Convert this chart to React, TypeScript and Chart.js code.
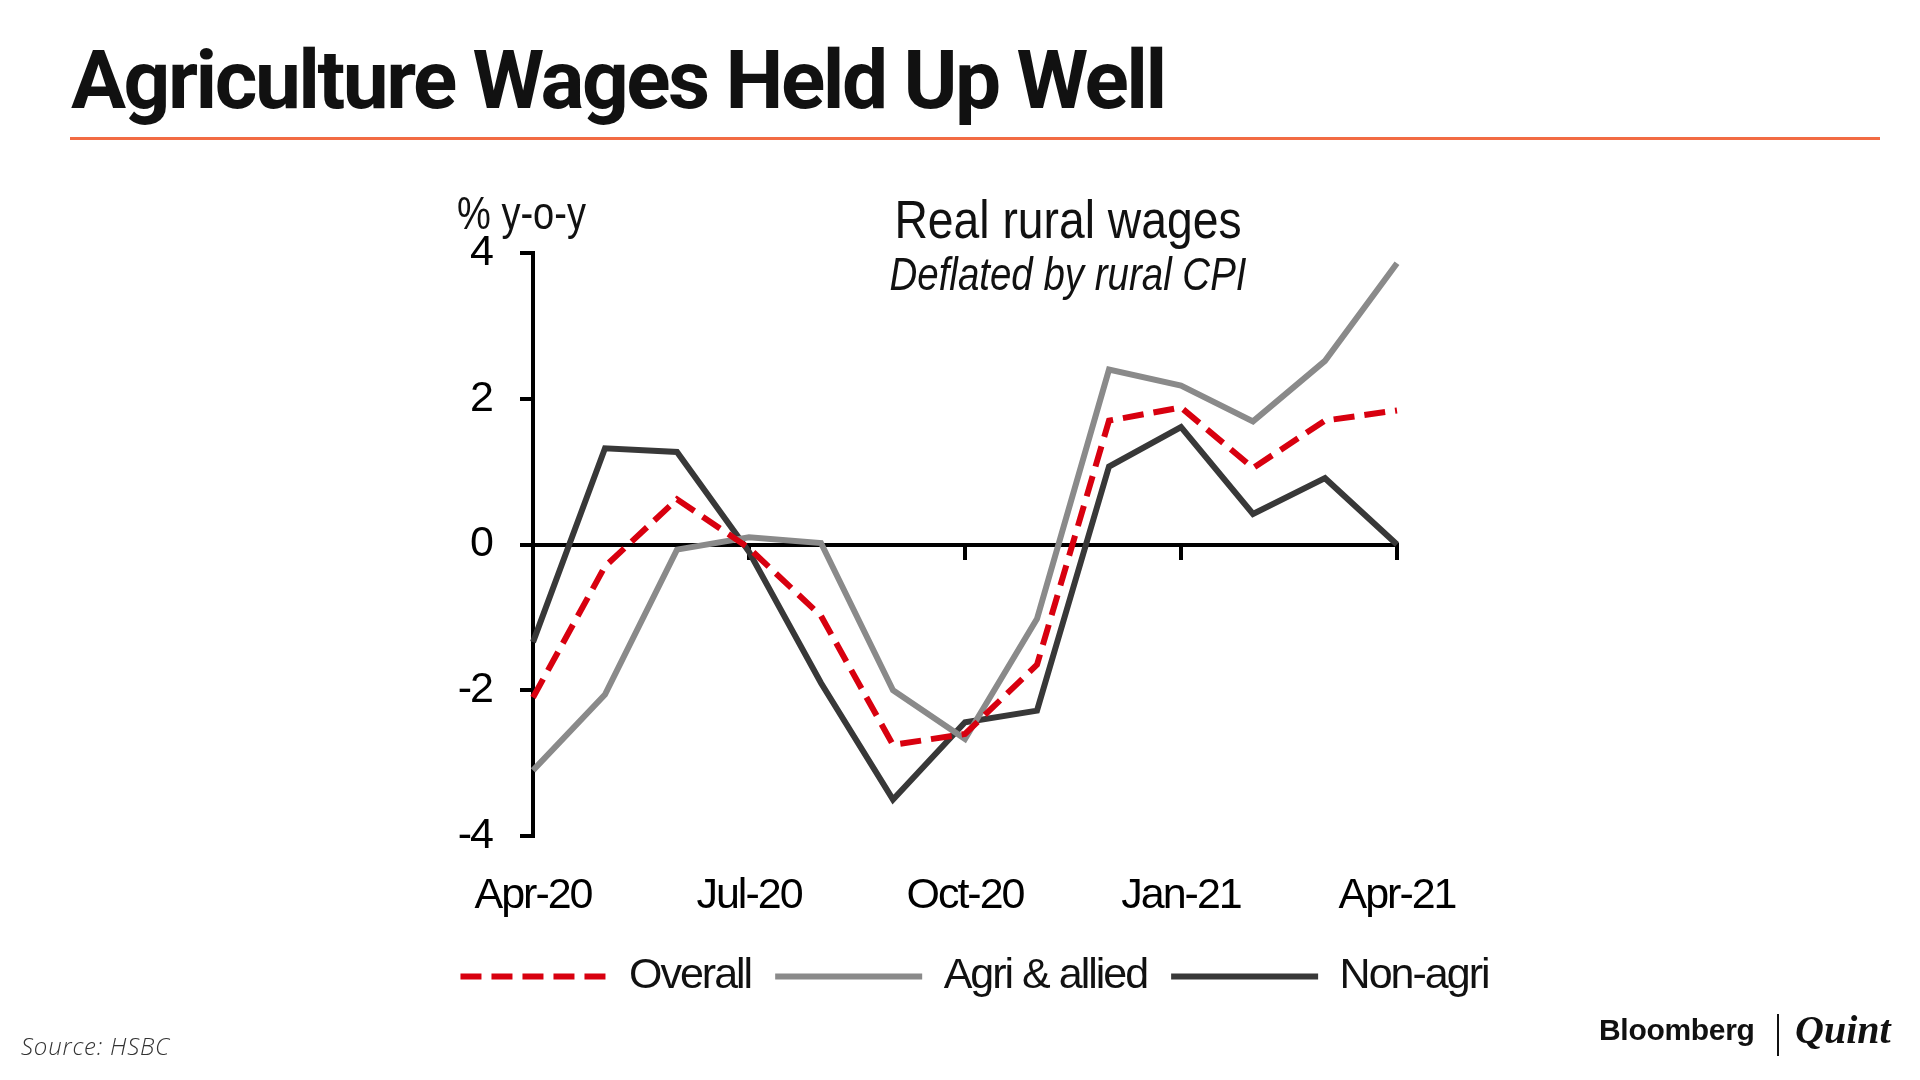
import React, { useEffect, useRef } from 'react';
import { Chart, registerables } from 'chart.js';

Chart.register(...registerables);

const months = ['Apr-20', 'May-20', 'Jun-20', 'Jul-20', 'Aug-20', 'Sep-20', 'Oct-20', 'Nov-20', 'Dec-20', 'Jan-21', 'Feb-21', 'Mar-21', 'Apr-21'];
const shownTickLabels = ['Apr-20', 'Jul-20', 'Oct-20', 'Jan-21', 'Apr-21'];
const yTicks = [-4, -2, 0, 2, 4];
const seriesNames = ['Overall', 'Agri & allied', 'Non-agri'];
const overall = [-2.1, -0.3, 0.62, -0.05, -0.98, -2.75, -2.6, -1.65, 1.7, 1.88, 1.05, 1.7, 1.84];
const agri = [-3.1, -2.06, -0.07, 0.1, 0.02, -2.0, -2.67, -1.02, 2.4, 2.18, 1.69, 2.52, 3.86];
const nonAgri = [-1.34, 1.32, 1.27, -0.1, -1.9, -3.5, -2.44, -2.28, 1.07, 1.61, 0.42, 0.91, 0.0];

const SANS = "'Liberation Sans Narrow', 'Arial Narrow', 'Liberation Sans', Arial, sans-serif";

const narrowTextPlugin = {
  id: 'narrowText',
  beforeUpdate(chart: any) { chart.ctx.letterSpacing = '-2px'; },
  beforeLayout(chart: any) { chart.ctx.letterSpacing = '-2px'; },
  beforeDraw(chart: any) { chart.ctx.letterSpacing = '-2px'; },
};

export default function App() {
  const ref = useRef<HTMLCanvasElement | null>(null);

  useEffect(() => {
    if (!ref.current) return;
    const font = { family: SANS, size: 43 };
    const chart = new Chart(ref.current, {
      type: 'line',
      plugins: [narrowTextPlugin],
      data: {
        labels: months,
        datasets: [
          { label: seriesNames[0], data: overall, borderColor: '#d8000f', backgroundColor: '#d8000f', borderWidth: 6, borderDash: [21, 10], pointRadius: 0, tension: 0, fill: false },
          { label: seriesNames[1], data: agri, borderColor: '#8a8a8a', backgroundColor: '#8a8a8a', borderWidth: 6, pointRadius: 0, tension: 0, fill: false },
          { label: seriesNames[2], data: nonAgri, borderColor: '#383838', backgroundColor: '#383838', borderWidth: 6, pointRadius: 0, tension: 0, fill: false },
        ],
      },
      options: {
        animation: false,
        responsive: false,
        devicePixelRatio: 1,
        layout: { padding: { left: 383, right: 354, top: 253, bottom: 72 } },
        plugins: {
          legend: {
            position: 'bottom',
            align: 'center',
            labels: {
              usePointStyle: true,
              pointStyle: 'line',
              pointStyleWidth: 147,
              padding: 24,
              color: '#111',
              font,
              generateLabels: (c: any) => {
                const items = Chart.defaults.plugins.legend.labels.generateLabels(c);
                return items.map((it: any) => {
                  const ds: any = c.data.datasets[it.datasetIndex];
                  return { ...it, lineDash: ds.borderDash || [], lineWidth: 6, strokeStyle: ds.borderColor, pointStyle: 'line' };
                });
              },
            },
          },
          tooltip: { enabled: false },
        },
        scales: {
          x: {
            type: 'category',
            position: 'bottom',
            offset: false,
            grid: { display: false },
            border: { display: false },
            ticks: {
              autoSkip: false,
              maxRotation: 0,
              padding: 26,
              color: '#000',
              font,
              callback: (_v: any, i: number) => (shownTickLabels.includes(months[i]) ? months[i] : ''),
            },
            afterFit: (s: any) => { s.height = 95; },
          },
          x2: {
            type: 'category',
            position: { y: 0 },
            offset: false,
            ticks: { display: false },
            grid: {
              display: true,
              drawOnChartArea: false,
              drawTicks: true,
              tickLength: 13,
              lineWidth: 4,
              color: (ctx: any) => (shownTickLabels.includes(months[ctx.index]) ? '#000' : 'rgba(0,0,0,0)'),
            },
            border: { display: true, color: '#000', width: 4 },
          },
          y: {
            position: 'left',
            min: -4,
            max: 4,
            afterBuildTicks: (s: any) => { s.ticks = yTicks.map((v) => ({ value: v })); },
            ticks: { padding: 28, color: '#000', font },
            grid: { drawOnChartArea: false, drawTicks: true, tickLength: 13, lineWidth: 4, color: '#000' },
            border: { display: true, width: 4, color: '#000' },
            afterFit: (s: any) => { s.width = 150; },
          },
          y2: {
            position: 'right',
            display: true,
            ticks: { display: false },
            grid: { display: false },
            border: { display: false },
            afterFit: (s: any) => { s.width = 169; },
          },
        },
      } as any,
    });
    return () => chart.destroy();
  }, []);

  const abs: React.CSSProperties = { position: 'absolute', whiteSpace: 'nowrap', lineHeight: 1 };

  return (
    <div style={{ position: 'absolute', left: 0, top: 0, width: 1920, height: 1080, background: '#fff', overflow: 'hidden' }}>
      <div style={{ ...abs, left: 71, top: 39, fontFamily: 'Roboto, sans-serif', fontWeight: 700, fontSize: 82, letterSpacing: -2.5, color: '#111' }}>
        Agriculture Wages Held Up Well
      </div>
      <div style={{ position: 'absolute', left: 70, top: 137, width: 1810, height: 3, background: '#f26b43' }} />
      <canvas ref={ref} width={1920} height={1080} style={{ position: 'absolute', left: 0, top: 0, width: 1920, height: 1080 }} />
      <div style={{ ...abs, left: 1068, top: 193, transform: 'translateX(-50%) scaleX(0.873)', fontFamily: SANS, fontSize: 53, color: '#111' }}>
        Real rural wages
      </div>
      <div style={{ ...abs, left: 1068, top: 251, transform: 'translateX(-50%) scaleX(0.836)', fontFamily: SANS, fontStyle: 'italic', fontSize: 46, color: '#111' }}>
        Deflated by rural CPI
      </div>
      <div style={{ ...abs, left: 457, top: 190, transform: 'scaleX(0.827)', transformOrigin: 'left center', fontFamily: SANS, fontSize: 46, color: '#111' }}>
        % y-o-y
      </div>
      <div style={{ ...abs, left: 21, top: 1034, fontFamily: "'Open Sans', sans-serif", fontStyle: 'italic', fontWeight: 300, fontSize: 24, letterSpacing: 0.8, color: '#333' }}>
        Source: HSBC
      </div>
      <div style={{ ...abs, left: 1599, top: 1015, fontFamily: "'Liberation Sans', Arial, sans-serif", fontWeight: 700, fontSize: 30, letterSpacing: -0.3, color: '#111' }}>
        Bloomberg
      </div>
      <div style={{ position: 'absolute', left: 1777, top: 1014, width: 2, height: 42, background: '#111' }} />
      <div style={{ ...abs, left: 1795, top: 1010, fontFamily: "'Liberation Serif', 'DejaVu Serif', serif", fontWeight: 700, fontStyle: 'italic', fontSize: 40, color: '#111' }}>
        Quint
      </div>
    </div>
  );
}
